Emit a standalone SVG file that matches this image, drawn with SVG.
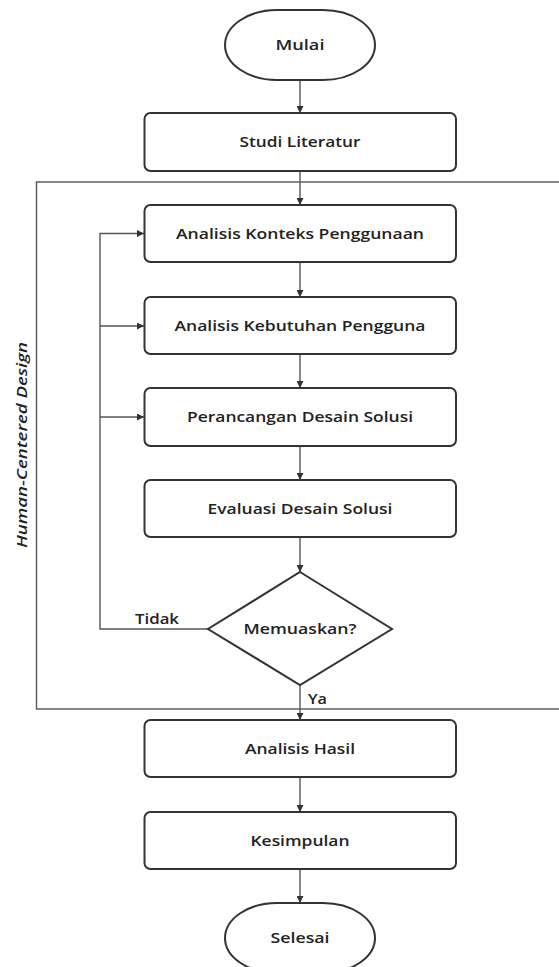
<svg xmlns="http://www.w3.org/2000/svg" width="559" height="967" viewBox="0 0 559 967">
<defs>
<style>
.node{fill:#fff;stroke:#333;stroke-width:2}
.lbl{font-family:"Open Sans","Noto Sans","Liberation Sans",sans-serif;font-weight:600;font-size:15px;fill:#222;text-anchor:middle}
.edge{fill:none;stroke:#555;stroke-width:1.4}
.frame{fill:none;stroke:#555;stroke-width:1.4}
</style>
<marker id="ah" viewBox="0 0 10 10" refX="10" refY="5" markerWidth="7" markerHeight="7" markerUnits="userSpaceOnUse" orient="auto">
<path d="M0,0 L10,5 L0,10 z" fill="#333"/>
</marker>
</defs>
<rect width="559" height="967" fill="#fff"/>
<g id="hcd-frame">
<rect class="frame" x="36.5" y="182" width="540" height="527"/>
<text class="lbl" font-style="italic" transform="translate(27,445) rotate(-90)" textLength="206" lengthAdjust="spacingAndGlyphs">Human-Centered Design</text>
</g>
<g id="connectors">
<line class="edge" x1="300" y1="80" x2="300" y2="113" marker-end="url(#ah)"/>
<line class="edge" x1="300" y1="171" x2="300" y2="205" marker-end="url(#ah)"/>
<line class="edge" x1="300" y1="262" x2="300" y2="297" marker-end="url(#ah)"/>
<line class="edge" x1="300" y1="354" x2="300" y2="388" marker-end="url(#ah)"/>
<line class="edge" x1="300" y1="446" x2="300" y2="480" marker-end="url(#ah)"/>
<line class="edge" x1="300" y1="537" x2="300" y2="572" marker-end="url(#ah)"/>
<line class="edge" x1="300" y1="685" x2="300" y2="720" marker-end="url(#ah)"/>
<line class="edge" x1="300" y1="777" x2="300" y2="812" marker-end="url(#ah)"/>
<line class="edge" x1="300" y1="869" x2="300" y2="903" marker-end="url(#ah)"/>
<polyline class="edge" points="208,629 100,629 100,233.5 144,233.5" marker-end="url(#ah)"/>
<line class="edge" x1="100" y1="326" x2="144" y2="326" marker-end="url(#ah)"/>
<line class="edge" x1="100" y1="417" x2="144" y2="417" marker-end="url(#ah)"/>
<text class="lbl" x="157" y="624" textLength="44" lengthAdjust="spacingAndGlyphs">Tidak</text>
<text class="lbl" x="317.5" y="704" textLength="19" lengthAdjust="spacingAndGlyphs">Ya</text>
</g>
<g id="mulai">
<rect class="node" x="225" y="10" width="150" height="70" rx="52" ry="35"/>
<text class="lbl" x="300" y="50" textLength="49" lengthAdjust="spacingAndGlyphs">Mulai</text>
</g>
<g id="studi-literatur">
<rect class="node" x="144.5" y="113" width="311.5" height="58" rx="6"/>
<text class="lbl" x="300" y="147" textLength="121" lengthAdjust="spacingAndGlyphs">Studi Literatur</text>
</g>
<g id="analisis-konteks">
<rect class="node" x="144.5" y="205" width="311.5" height="57" rx="6"/>
<text class="lbl" x="300" y="239" textLength="248" lengthAdjust="spacingAndGlyphs">Analisis Konteks Penggunaan</text>
</g>
<g id="analisis-kebutuhan">
<rect class="node" x="144.5" y="297" width="311.5" height="57" rx="6"/>
<text class="lbl" x="300" y="331" textLength="251" lengthAdjust="spacingAndGlyphs">Analisis Kebutuhan Pengguna</text>
</g>
<g id="perancangan">
<rect class="node" x="144.5" y="388" width="311.5" height="58" rx="6"/>
<text class="lbl" x="300" y="422" textLength="226" lengthAdjust="spacingAndGlyphs">Perancangan Desain Solusi</text>
</g>
<g id="evaluasi">
<rect class="node" x="144.5" y="480" width="311.5" height="57" rx="6"/>
<text class="lbl" x="300" y="514" textLength="185" lengthAdjust="spacingAndGlyphs">Evaluasi Desain Solusi</text>
</g>
<g id="memuaskan">
<polygon class="node" points="300,572 392,629 300,685 208,629"/>
<text class="lbl" x="300" y="634" textLength="113" lengthAdjust="spacingAndGlyphs">Memuaskan?</text>
</g>
<g id="analisis-hasil">
<rect class="node" x="144.5" y="720" width="311.5" height="57" rx="6"/>
<text class="lbl" x="300" y="754" textLength="110" lengthAdjust="spacingAndGlyphs">Analisis Hasil</text>
</g>
<g id="kesimpulan">
<rect class="node" x="144.5" y="812" width="311.5" height="57" rx="6"/>
<text class="lbl" x="300" y="846" textLength="99" lengthAdjust="spacingAndGlyphs">Kesimpulan</text>
</g>
<g id="selesai">
<rect class="node" x="225" y="903" width="150" height="70" rx="52" ry="35"/>
<text class="lbl" x="300" y="943" textLength="59" lengthAdjust="spacingAndGlyphs">Selesai</text>
</g>
</svg>
